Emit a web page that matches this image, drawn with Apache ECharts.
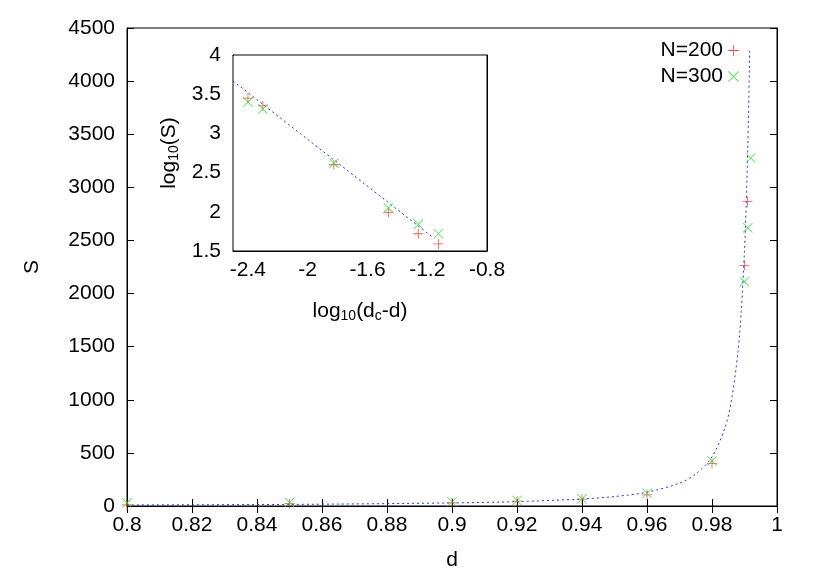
<!DOCTYPE html><html><head><meta charset="utf-8"><script src="https://cdn.jsdelivr.net/npm/echarts@6/dist/echarts.min.js"></script>
<style>html,body{margin:0;padding:0;background:#fff}#c{width:830px;height:581px}</style></head><body><div id="c"></div><script>
const d200 = [0.8,0.85,0.9,0.92,0.94,0.96,0.98,0.99,0.9909];
const s200 = [10,22,30,45,65,105,402,2266,2865];
const d300 = [0.8,0.85,0.9,0.92,0.94,0.96,0.98,0.99,0.991,0.9919];
const s300 = [30,32,40,52,68,120,424,2112,2620,3276];
const fitD = [0.8,0.85,0.9,0.92,0.94,0.95,0.96,0.97,0.975,0.98,0.984,0.986,0.988,0.989,0.99,0.9905,0.991,0.9915,0.9916];
const fitS = [10,15,29,41,66,89,130,215,301,463,737,996,1453,1831,2407,2819,3364,4110,4292];
const lx200 = [-2.4,-2.3,-1.825,-1.46,-1.26,-1.125];
const ly200 = [3.45,3.35,2.60,1.99,1.72,1.59];
const lx300 = [-2.4,-2.3,-1.825,-1.46,-1.26,-1.125];
const ly300 = [3.40,3.31,2.62,2.05,1.84,1.72];
const fitLX = [-2.5,-1.158];
const fitLY = [3.67,1.667];
const zip=(a,b)=>a.map((v,i)=>[v,b[i]]);
const PLUS='path://M0,4.6H10V5.4H0Z M4.6,0H5.4V10H4.6Z';
const CROSS='path://M0,0.6L0.6,0L10,9.4L9.4,10Z M9.4,0L10,0.6L0.6,10L0,9.4Z';
const F='Liberation Sans';
const FS=21;
const lab={color:'#000',fontFamily:F,fontSize:FS};
const ax={show:true,lineStyle:{color:'#000',width:1}};
const tk={show:true,inside:true,length:7,lineStyle:{color:'#000'}};
const ch=echarts.init(document.getElementById('c'));
const fmt=v=>String(+(+v).toFixed(2));
const rich={a:{fontFamily:F,fontSize:FS,color:'#000'},s:{fontFamily:F,fontSize:14,color:'#000',padding:[10,0,0,0]}};
ch.setOption({
 animation:false,
 grid:[{left:127,right:53,top:28,bottom:75,show:true,borderColor:'#000',borderWidth:1},
       {left:233,right:343,top:55,bottom:330,show:true,backgroundColor:'#fff',borderColor:'#000',borderWidth:1,z:5}],
 legend:{right:86,top:35,orient:'vertical',align:'right',itemGap:5,itemWidth:11,itemHeight:11,
   textStyle:{fontFamily:F,fontSize:FS,color:'#000'},data:[{name:'N=200',icon:PLUS},{name:'N=300',icon:CROSS}]},
 xAxis:[
  {gridIndex:0,type:'value',min:0.8,max:1,interval:0.02,axisLine:ax,axisTick:tk,splitLine:{show:false},axisLabel:{...lab,margin:9,formatter:fmt},
   name:'d',nameLocation:'middle',nameGap:44,nameTextStyle:lab},
  {gridIndex:0,type:'value',position:'top',min:0.8,max:1,interval:0.02,axisLine:ax,axisTick:tk,splitLine:{show:false},axisLabel:{show:false}},
  {gridIndex:1,type:'value',min:-2.5,max:-0.8,axisLine:ax,splitLine:{show:false},
   axisTick:{...tk,customValues:[-2.4,-2,-1.6,-1.2,-0.8]},axisLabel:{...lab,margin:9,customValues:[-2.4,-2,-1.6,-1.2,-0.8],formatter:fmt},
   name:'{a|log}{s|10}{a|(d}{s|c}{a|-d)}',nameLocation:'middle',nameGap:48,nameTextStyle:{rich}},
  {gridIndex:1,type:'value',position:'top',min:-2.5,max:-0.8,axisLine:ax,splitLine:{show:false},
   axisTick:{...tk,customValues:[-2.4,-2,-1.6,-1.2,-0.8]},axisLabel:{show:false}}
 ],
 yAxis:[
  {gridIndex:0,type:'value',min:0,max:4500,interval:500,axisLine:ax,axisTick:tk,splitLine:{show:false},axisLabel:{...lab,margin:12,formatter:v=>String(v)},
   name:'S',nameLocation:'middle',nameGap:84,nameRotate:90,nameTextStyle:lab},
  {gridIndex:0,type:'value',position:'right',min:0,max:4500,interval:500,axisLine:ax,axisTick:tk,splitLine:{show:false},axisLabel:{show:false}},
  {gridIndex:1,type:'value',min:1.5,max:4,interval:0.5,axisLine:ax,axisTick:tk,splitLine:{show:false},axisLabel:{...lab,margin:12,formatter:fmt},
   name:'{a|log}{s|10}{a|(S)}',nameLocation:'middle',nameGap:52,nameRotate:90,nameTextStyle:{rich}},
  {gridIndex:1,type:'value',position:'right',min:1.5,max:4,interval:0.5,axisLine:ax,axisTick:tk,splitLine:{show:false},axisLabel:{show:false}}
 ],
 series:[
  {type:'line',xAxisIndex:0,yAxisIndex:0,data:zip(fitD,fitS),showSymbol:false,smooth:0.3,lineStyle:{color:'#2233ff',width:1,type:[2,3]},z:1},
  {name:'N=200',type:'scatter',xAxisIndex:0,yAxisIndex:0,data:zip(d200,s200),symbol:PLUS,symbolSize:10,itemStyle:{color:'#ff2020'}},
  {name:'N=300',type:'scatter',xAxisIndex:0,yAxisIndex:0,data:zip(d300,s300),symbol:CROSS,symbolSize:10,itemStyle:{color:'#20e020'}},
  {type:'line',xAxisIndex:2,yAxisIndex:2,data:zip(fitLX,fitLY),showSymbol:false,lineStyle:{color:'#2233ff',width:1,type:[2,3]},z:6},
  {name:'N=200',type:'scatter',xAxisIndex:2,yAxisIndex:2,data:zip(lx200,ly200),symbol:PLUS,symbolSize:10,itemStyle:{color:'#ff2020'},z:6},
  {name:'N=300',type:'scatter',xAxisIndex:2,yAxisIndex:2,data:zip(lx300,ly300),symbol:CROSS,symbolSize:10,itemStyle:{color:'#20e020'},z:6}
 ]
});
</script></body></html>
